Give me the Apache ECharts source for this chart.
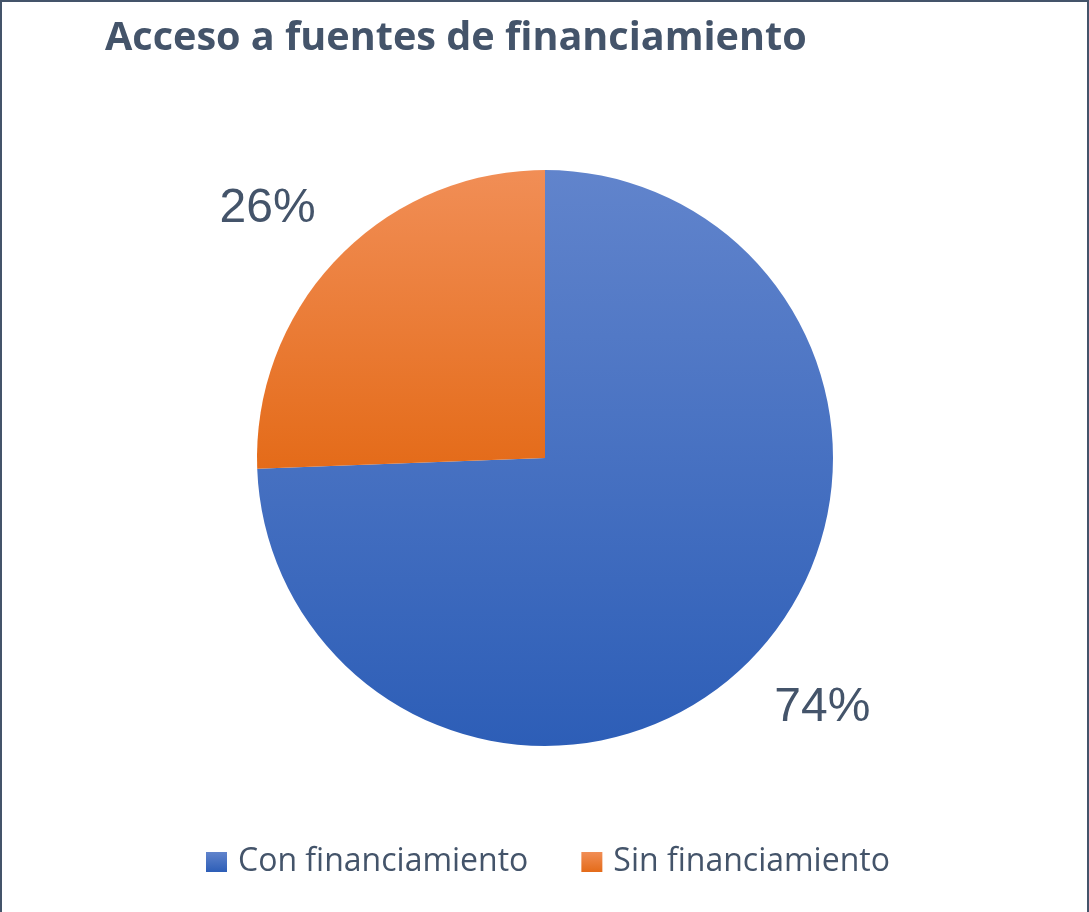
<!DOCTYPE html>
<html>
<head>
<meta charset="utf-8">
<script src="https://cdn.jsdelivr.net/npm/echarts@6/dist/echarts.min.js"></script>
<style>
  body { margin: 0; background: #fff; }
  #chart {
    width: 1089px; height: 912px; box-sizing: border-box;
    border-top: 2px solid #44546A; border-left: 2px solid #44546A; border-right: 2px solid #44546A;
  }
</style>
</head>
<body>
<div id="chart"></div>
<script>
var categories = ['Con financiamiento', 'Sin financiamiento'];
var values = [74.4, 25.6];

var grad = function (top, bottom) {
  return new echarts.graphic.LinearGradient(0, 0, 0, 1, [
    { offset: 0, color: top },
    { offset: 1, color: bottom }
  ]);
};
var fills = [grad('#6184CC', '#2D5EB7'), grad('#F18E56', '#E46B19')];

var myChart = echarts.init(document.getElementById('chart'));
var options = {
  animation: false,
  title: {
    text: 'Acceso a fuentes de financiamiento',
    left: 98,
    top: 12,
    textStyle: {
      fontFamily: 'Open Sans',
      fontWeight: 'bold',
      fontSize: 39.6,
      color: '#44546A'
    }
  },
  legend: {
    bottom: 29,
    left: 199,
    itemWidth: 21,
    itemHeight: 20,
    itemGap: 53,
    icon: 'rect',
    data: categories,
    textStyle: {
      fontFamily: 'Open Sans',
      fontSize: 32,
      color: '#44546A',
      padding: [0, 0, 0, 6]
    }
  },
  series: [
    {
      type: 'pie',
      center: [543, 456],
      radius: 288,
      startAngle: 90,
      clockwise: true,
      emphasis: { disabled: true },
      label: {
        show: true,
        position: 'outside',
        fontFamily: 'Liberation Sans',
        fontSize: 48,
        color: '#44546A',
        distanceToLabelLine: -30,
        formatter: function (p) { return Math.round(p.percent) + '%'; }
      },
      labelLine: { show: false, length: 72, length2: 0 },
      data: categories.map(function (name, i) {
        return { name: name, value: values[i], itemStyle: { color: fills[i] } };
      })
    }
  ]
};
myChart.setOption(options);
</script>
</body>
</html>
